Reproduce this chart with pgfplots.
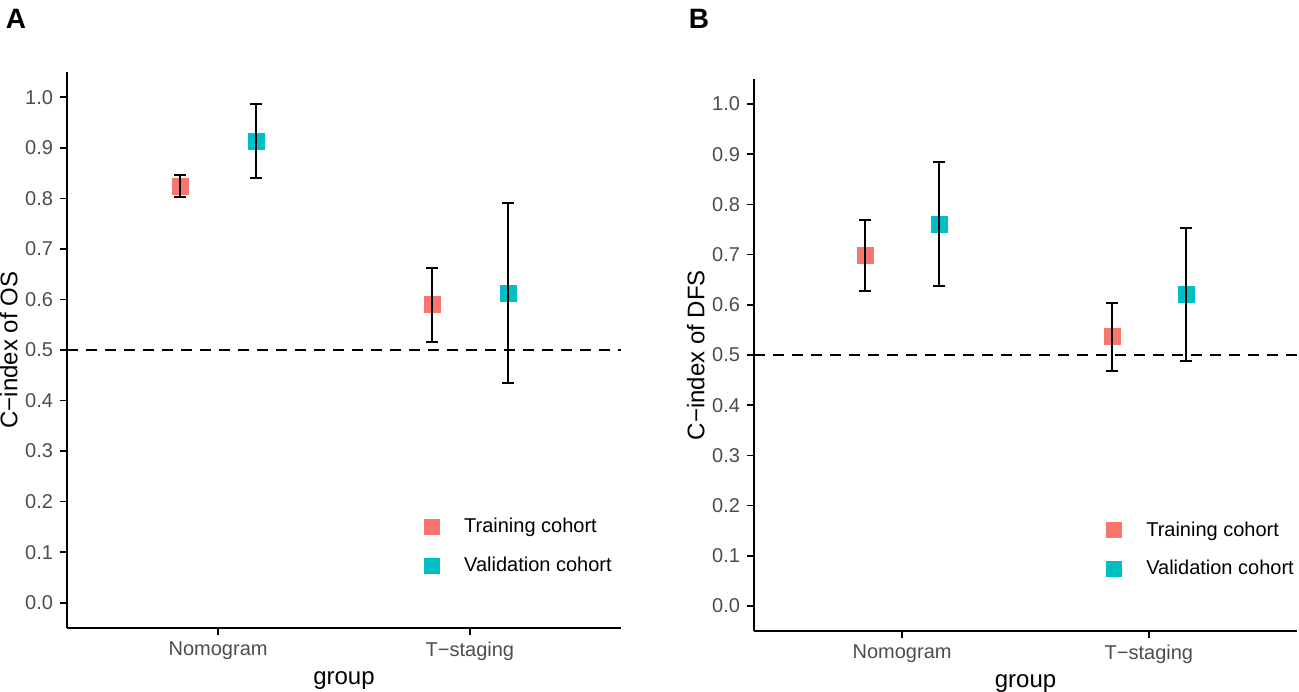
\documentclass[border=0pt]{standalone}
\usepackage{pgfplots}
\pgfplotsset{compat=1.18}
\usepackage{fontspec}
\setmainfont{Liberation Sans}
\definecolor{trainc}{HTML}{F8766D}
\definecolor{validc}{HTML}{00BFC4}
\definecolor{tickgray}{HTML}{4D4D4D}
\pgfplotsset{
  cstyle/.style={
    scale only axis, clip marker paths=true,
    axis lines*=left,
    axis line style={line width=0.9pt, black},
    xmin=0.4, xmax=2.6, ymin=-0.05, ymax=1.05,
    xtick={1,2}, xticklabels={Nomogram, T−staging},
    ytick={0,0.1,0.2,0.3,0.4,0.5,0.6,0.7,0.8,0.9,1},
    yticklabel style={/pgf/number format/.cd, fixed, fixed zerofill, precision=1},
    /pgf/number format/assume math mode=true,
    tick align=outside, major tick length=3.5pt,
    tick style={line width=0.8pt, black},
    ticklabel style={font=\fontsize{10}{12}\selectfont, text=tickgray},
    xlabel=group,
    label style={font=\fontsize{12}{14}\selectfont},
    xlabel style={at={(axis description cs:0.5,0)}, anchor=center, yshift=-26.5pt},
    ylabel style={at={([xshift=-24.5pt]axis description cs:0,0.5)}, anchor=south, inner sep=0pt},
    legend cell align=left,
    legend style={draw=none, fill=none, inner sep=0pt, row sep=10.5pt,
      font=\fontsize{10}{12}\selectfont, nodes={inner sep=0pt}},
    legend image code/.code={\path (0pt,-4pt) (20pt,4pt); \fill[#1, draw=none] (0pt,-4pt) rectangle (8pt,4pt);},
    trainm/.style={only marks, mark=square*, mark size=4pt, draw=none, fill=trainc, mark options={draw=trainc, fill=trainc, line width=0.1pt}},
    validm/.style={only marks, mark=square*, mark size=4pt, draw=none, fill=validc, mark options={draw=validc, fill=validc, line width=0.1pt}},
    ebar/.style={forget plot, draw=none, mark=none,
      error bars/.cd, y dir=both, y explicit,
      error bar style={draw=black, line width=1pt},
      error mark options={rotate=90, draw=black, line width=1pt, mark size=3pt}},
    refline/.style={forget plot, black, line width=1pt, dash pattern=on 5.5pt off 4pt},
  }
}
\begin{document}
\begin{tikzpicture}
\useasboundingbox (0,0) rectangle (649.5pt,345.5pt);
\begin{axis}[cstyle, at={(33.5pt,31.5pt)}, anchor=south west, width=277pt, height=278pt,
  ylabel={C−index of OS},
  legend style={at={(axis description cs:0.644,0.198)}, anchor=north west}]
\addplot[refline] coordinates {(0.4,0.5) (2.6,0.5)};
\addplot[trainm] coordinates {(0.85,0.8235) (1.85,0.590)};
\addlegendentry{Training cohort}
\addplot[validm] coordinates {(1.15,0.913) (2.15,0.6135)};
\addlegendentry{Validation cohort}
\addplot[ebar] coordinates {
  (0.85,0.8235) +=(0,0.0235) -=(0,0.0215)
  (1.15,0.913) +=(0,0.073) -=(0,0.072)
  (1.85,0.590) +=(0,0.072) -=(0,0.074)
  (2.15,0.6135) +=(0,0.1765) -=(0,0.1785)
};
\end{axis}
\begin{axis}[cstyle, at={(377pt,30pt)}, anchor=south west, width=271.5pt, height=276pt,
  ylabel={C−index of DFS},
  legend style={at={(axis description cs:0.648,0.199)}, anchor=north west}]
\addplot[refline] coordinates {(0.4,0.5) (2.6,0.5)};
\addplot[trainm] coordinates {(0.85,0.699) (1.85,0.537)};
\addlegendentry{Training cohort}
\addplot[validm] coordinates {(1.15,0.761) (2.15,0.621)};
\addlegendentry{Validation cohort}
\addplot[ebar] coordinates {
  (0.85,0.699) +=(0,0.071) -=(0,0.0715)
  (1.15,0.761) +=(0,0.123) -=(0,0.123)
  (1.85,0.537) +=(0,0.067) -=(0,0.068)
  (2.15,0.621) +=(0,0.132) -=(0,0.133)
};
\end{axis}
\node[font=\bfseries\fontsize{14}{16}\selectfont] at (8pt,336pt) {A};
\node[font=\bfseries\fontsize{14}{16}\selectfont] at (349.5pt,336pt) {B};
\end{tikzpicture}
\end{document}
